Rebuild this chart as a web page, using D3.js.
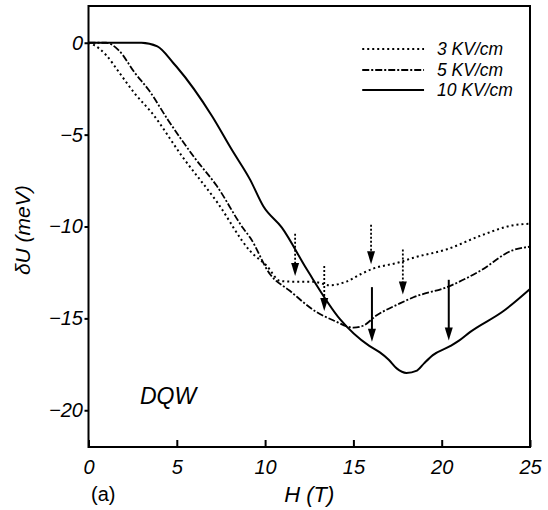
<!DOCTYPE html>
<html><head><meta charset="utf-8">
<script src="https://cdn.jsdelivr.net/npm/d3@7"></script>
<style>body{margin:0;background:#fff;} svg{display:block;} text{-webkit-font-smoothing:antialiased;}</style>
</head><body>
<script>
// ---- data ----
const H3  = [0, 0.3, 1.0, 1.7, 2.6, 3.6, 5.3, 7.3, 9.15, 10.1, 10.85, 11.5, 12.7, 13.7, 14.6, 15.4, 16.1, 17.6, 18.4, 20.3, 22.2, 24.0, 25];
const U3  = [0, -0.12, -0.67, -1.57, -2.74, -3.83, -6.18, -8.7, -11.33, -12.15, -12.96, -13.0, -13.0, -13.2, -13.0, -12.6, -12.3, -11.95, -11.7, -11.24, -10.5, -9.94, -9.85];
const H5  = [0, 1.0, 1.7, 2.64, 3.4, 4.5, 6.0, 7.27, 8.76, 9.15, 10.28, 11.4, 12.9, 13.85, 15.0, 15.55, 16.3, 17.6, 18.4, 20.3, 22.2, 24.0, 25];
const U5  = [0, 0, -0.4, -1.66, -2.56, -4.2, -6.25, -7.8, -10.1, -10.6, -12.6, -13.5, -14.65, -15.1, -15.5, -15.4, -14.85, -14.2, -13.85, -13.3, -12.4, -11.3, -11.1];
const H10 = [0, 3.0, 3.9, 4.8, 5.0, 7.0, 8.1, 9.15, 9.9, 10.95, 12.36, 14.24, 15.9, 16.5, 17.0, 17.45, 18.0, 18.6, 19.0, 19.5, 20.5, 21.0, 21.6, 23.5, 25];
const U10 = [0, 0, -0.2, -1.1, -1.32, -4.0, -5.8, -7.45, -8.9, -10.06, -12.33, -15.04, -16.5, -16.85, -17.25, -17.72, -17.97, -17.84, -17.45, -17.0, -16.5, -16.2, -15.75, -14.6, -13.4];
const seriesNames = ["3 KV/cm", "5 KV/cm", "10 KV/cm"];
const arrowH    = [11.7, 13.35, 16.0, 17.8, 16.05, 20.4];
const arrowFrom = [-10.4, -12.15, -9.9, -11.25, -13.3, -12.9];
const arrowTo   = [-12.7, -14.6, -12.05, -13.7, -16.27, -16.2];
const arrowKind = ["dotted", "dotted", "dotted", "dotted", "solid", "solid"];
const xTicks = [0, 5, 10, 15, 20, 25];
const yTicks = [0, -5, -10, -15, -20];

const W = 548, Hh = 510;
const L = 88.5, R = 530, T = 6, B = 447;
const svg = d3.select("body").append("svg").attr("width", W).attr("height", Hh);
const x = d3.scaleLinear().domain([0, 25]).range([L, R]);
const y = d3.scaleLinear().domain([-22, 2]).range([B, T]);

const font = "Arial, 'Liberation Sans', sans-serif";

// frame
svg.append("rect").attr("x", L).attr("y", T).attr("width", R - L).attr("height", B - T)
  .attr("fill", "none").attr("stroke", "#000").attr("stroke-width", 2);

// x axis (inward ticks)
const xa = svg.append("g").attr("transform", `translate(0,${B})`)
  .call(d3.axisBottom(x).tickValues(xTicks).tickSizeInner(-7).tickSizeOuter(0).tickPadding(13));
xa.select(".domain").remove();
xa.selectAll("line").attr("stroke-width", 2);
xa.selectAll("text").attr("font-family", font).attr("font-style", "italic").attr("font-size", 20).attr("fill", "#000");

// y axis (outward short ticks)
const ya = svg.append("g").attr("transform", `translate(${L},0)`)
  .call(d3.axisLeft(y).tickValues(yTicks).tickSizeInner(4).tickSizeOuter(0).tickPadding(1.5));
ya.select(".domain").remove();
ya.selectAll("line").attr("stroke-width", 2);
ya.selectAll("text").attr("font-family", font).attr("font-style", "italic").attr("font-size", 20).attr("fill", "#000");

// curves
const line = d3.line().x(d => x(d[0])).y(d => y(d[1])).curve(d3.curveMonotoneX);
const styles = [
  {dash: "2,3", w: 2},
  {dash: "7,2,2,2", w: 1.8},
  {dash: null, w: 2}
];
const series = [d3.zip(H3, U3), d3.zip(H5, U5), d3.zip(H10, U10)];
series.forEach((s, i) => {
  svg.append("path").datum(s).attr("d", line).attr("fill", "none").attr("stroke", "#000")
    .attr("stroke-width", styles[i].w).attr("stroke-dasharray", styles[i].dash)
    .attr("stroke-linejoin", "round");
});

// arrows
arrowH.forEach((h, i) => {
  const xx = x(h), y0 = y(arrowFrom[i]), y1 = y(arrowTo[i]);
  const headLen = 13, headW = 4;
  svg.append("line").attr("x1", xx).attr("x2", xx).attr("y1", y0).attr("y2", y1 - headLen + 1)
    .attr("stroke", "#000").attr("stroke-width", arrowKind[i] === "solid" ? 2 : 1.8)
    .attr("stroke-dasharray", arrowKind[i] === "solid" ? null : "2,2");
  svg.append("path").attr("d", `M${xx - headW},${y1 - headLen} L${xx + headW},${y1 - headLen} L${xx},${y1} Z`)
    .attr("fill", "#000");
});

// legend
const legY = [49, 70, 90];
seriesNames.forEach((n, i) => {
  svg.append("line").attr("x1", x(15.5)).attr("x2", x(19.0)).attr("y1", legY[i]).attr("y2", legY[i])
    .attr("stroke", "#000").attr("stroke-width", styles[i].w).attr("stroke-dasharray", styles[i].dash);
  svg.append("text").attr("x", 437).attr("y", legY[i] + 6).text(n).attr("fill", "#000")
    .attr("font-family", font).attr("font-style", "italic").attr("font-size", 17.5);
});

// labels
svg.append("text").attr("x", x(12.5)).attr("y", 502).attr("text-anchor", "middle").attr("fill", "#000")
  .attr("font-family", font).attr("font-style", "italic").attr("font-size", 22).text("H (T)");
svg.append("text").attr("transform", `translate(30,${y(-10.2)}) rotate(-90)`).attr("text-anchor", "middle")
  .attr("fill", "#000")
  .attr("font-family", font).attr("font-style", "italic").attr("font-size", 21).text("δU (meV)");
svg.append("text").attr("x", 140).attr("y", 404).attr("fill", "#000")
  .attr("font-family", font).attr("font-style", "italic").attr("font-size", 23).text("DQW");
svg.append("text").attr("x", 91).attr("y", 501).attr("fill", "#000")
  .attr("font-family", font).attr("font-size", 20).text("(a)");
</script>
</body></html>
